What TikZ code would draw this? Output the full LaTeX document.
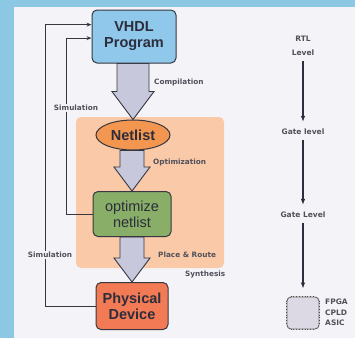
\documentclass[tikz,border=0pt]{standalone}
\usepackage{fontspec}
\setmainfont{Liberation Sans}
\newfontfamily\labelfont{DejaVu Sans}
\usetikzlibrary{calc,arrows.meta,shapes.geometric}
\definecolor{bgc}{RGB}{244,244,248}
\definecolor{framec}{RGB}{140,200,228}
\definecolor{boxline}{RGB}{55,55,65}
\definecolor{textc}{RGB}{45,45,60}
\definecolor{labc}{RGB}{80,80,90}
\definecolor{vhdlc}{RGB}{143,200,234}
\definecolor{regionc}{RGB}{249,201,168}
\definecolor{netc}{RGB}{243,150,80}
\definecolor{optc}{RGB}{136,174,104}
\definecolor{physc}{RGB}{242,122,85}
\definecolor{arrowc}{RGB}{200,200,220}
\definecolor{chipc}{RGB}{220,216,228}
\pgfdeclarelayer{backlayer}
\pgfdeclarelayer{bglayer}
\pgfsetlayers{backlayer,bglayer,main}
\newcommand\blockarrow[5]{%
  \draw[barrow] let \p1=(#1.south), \p2=(#2.north) in
  (\x2-#3pt,\y1) -- (\x2+#3pt,\y1) -- (\x2+#3pt,\y2+#5pt) -- (\x2+#4pt,\y2+#5pt)
  -- (\x2,\y2) -- (\x2-#4pt,\y2+#5pt) -- (\x2-#3pt,\y2+#5pt) -- cycle;}
\tikzset{
  mainbox/.style={draw=boxline, line width=1pt, rounded corners=5pt, align=center,
    text=textc, font=\fontsize{14.5}{16}\selectfont\bfseries, inner sep=2pt},
  barrow/.style={draw=boxline, line width=0.9pt, fill=arrowc, line join=miter},
  simline/.style={draw=boxline, line width=0.9pt, -{Stealth[length=5pt,width=4pt]}},
  smalllabel/.style={font=\labelfont\bfseries\fontsize{7.3}{8}\selectfont, text=labc, inner sep=1pt},
  lvl/.style={font=\labelfont\bfseries\fontsize{7.5}{14}\selectfont, text=labc, align=center, inner sep=1pt},
  lvlarrow/.style={draw=textc, line width=1.1pt, -{Latex[length=6pt,width=4.5pt]}}
}
\begin{document}
\begin{tikzpicture}[x=1pt,y=-1pt]
\useasboundingbox (0,0) rectangle (355,338);
\begin{pgfonlayer}{backlayer}
\fill[bgc] (0,0) rectangle (355,338);
\fill[framec] (0,0) rectangle (355,7);
\fill[framec] (0,0) rectangle (14,338);
\fill[regionc, rounded corners=5pt] (76,117) rectangle (224,268);
\end{pgfonlayer}

% main nodes
\node[mainbox, fill=vhdlc, minimum width=84pt, minimum height=53pt] (vhdl) at (134,36.5) {VHDL\\Program};
\node[draw=boxline, line width=1pt, ellipse, fill=netc, minimum width=74pt, minimum height=30pt,
  text=textc, font=\fontsize{14.5}{16}\selectfont\bfseries, inner sep=1pt] (net) at (133,135) {Netlist};
\node[mainbox, fill=optc, minimum width=78pt, minimum height=45pt, font=\fontsize{14.5}{16}\selectfont] (opt) at (132,214) {optimize\\netlist};
\node[mainbox, fill=physc, minimum width=72pt, minimum height=47pt] (phys) at (132,306) {Physical\\Device};

\begin{pgfonlayer}{bglayer}
  \blockarrow{vhdl}{net}{16}{21}{28}
  \blockarrow{net}{opt}{12}{18}{24}
  \blockarrow{opt}{phys}{12}{18}{24}
\end{pgfonlayer}

% simulation feedback
\coordinate (s1) at ($(vhdl.north west)!0.28!(vhdl.south west)$);
\coordinate (s2) at ($(vhdl.north west)!0.53!(vhdl.south west)$);
\draw[simline] (phys.west) -| ([xshift=-46pt]s1) -- (s1);
\draw[simline] (opt.west) -| ([xshift=-25pt]s2) -- (s2);
\node[smalllabel, fill=bgc] (sim1) at (76,108) {Simulation};
\node[smalllabel, fill=bgc] (sim2) at (50,255) {Simulation};

% labels
\node[smalllabel, anchor=west] (comp) at (153,82) {Compilation};
\node[smalllabel, anchor=west] (optl) at (152,162) {Optimization};
\node[smalllabel, anchor=west] (pr) at (157,255) {Place \& Route};
\node[smalllabel, anchor=west] (syn) at (184,275) {Synthesis};

% right side
\node[lvl] (rtl) at (303,46) {RTL\\Level};
\node[lvl] (gl1) at (303,132) {Gate level};
\node[lvl] (gl2) at (303,215) {Gate Level};
\node[draw=gray!80!black, line width=0.9pt, fill=chipc, rounded corners=4pt,
  minimum width=32pt, minimum height=32pt] (chip) at (303,313) {};
\draw[lvlarrow, shorten <=4pt, shorten >=6pt] (rtl) -- (gl1);
\draw[lvlarrow, shorten <=4pt, shorten >=6pt] (gl1) -- (gl2);
\draw[lvlarrow, shorten <=4pt, shorten >=8pt] (gl2) -- (chip);
\foreach \s/\e in {north west/north east, south west/south east, north west/south west, north east/south east}{
  \draw[gray!60!black, line width=1.2pt, dash pattern=on 0.8pt off 2pt]
    ($(chip.\s)!4pt!(chip.\e)$) -- ($(chip.\e)!4pt!(chip.\s)$);
}
\node[lvl, anchor=west] (fpga) at (324,302) {FPGA};
\node[lvl, anchor=west] (cpld) at (324,312.5) {CPLD};
\node[lvl, anchor=west] (asic) at (324,323) {ASIC};
\end{tikzpicture}
\end{document}
